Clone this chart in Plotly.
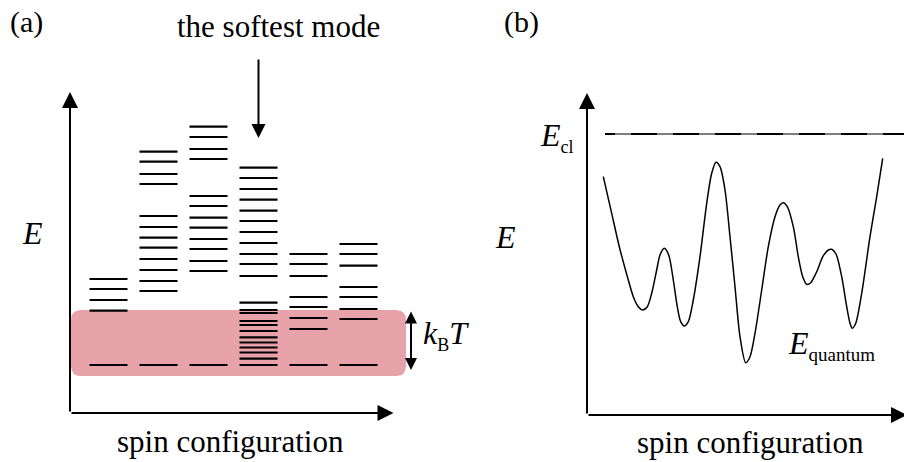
import plotly.graph_objects as go

# ---------------- panel (a): discrete energy levels per spin configuration ----------------
configs = [1, 2, 3, 4, 5, 6]
levels = [
    [0.0, 5.43, 6.5, 7.6, 8.6],
    [0.0, 7.4, 8.4, 9.5, 10.6, 11.73, 12.73, 13.8, 14.9, 18.1, 19.1, 20.33, 21.33],
    [0.0, 9.4, 10.4, 11.6, 12.6, 13.73, 14.73, 15.9, 16.9, 20.6, 21.6, 22.8, 23.83],
    [0.0, 0.63, 1.25, 1.75, 2.25, 2.77, 3.4, 4.0, 4.4, 5.2, 5.5, 6.23,
     8.9, 10.1, 11.1, 12.2, 13.3, 14.4, 15.43, 16.53, 17.6, 18.7, 19.73],
    [0.0, 3.6, 4.7, 5.8, 6.8, 8.9, 10.1, 11.1],
    [0.0, 4.6, 5.6, 6.8, 7.8, 9.93, 11.1, 12.1],
]
level_half_width = 0.38
thermal_window = (-1.1, 5.5)        # E range covered by k_B T band
softest_config = 4

# ---------------- panel (b): classical energy landscape ----------------
q_curve = [1.63, 2.47, 3.23, 4.13, 4.63, 5.13, 5.57, 6.03, 6.47, 6.97, 7.3, 7.73,
           8.17, 8.63, 9.03, 9.37, 9.73, 10.13, 10.63, 11.3, 11.97, 12.47, 12.9,
           13.3, 13.8, 14.3, 14.8, 15.3, 15.87, 16.3, 16.8, 17.47, 18.13, 18.8,
           19.3, 19.63, 20.03, 20.63, 21.13, 21.57, 21.97, 22.37, 22.97, 23.63,
           24.13, 24.47, 24.9, 25.47, 25.97, 26.3, 26.53, 26.87, 27.47, 28.3,
           28.97, 29.57]
e_curve = [23.83, 20.17, 16.83, 13.5, 11.83, 10.83, 10.5, 10.83, 12.17, 14.5, 16.0,
           16.67, 16.0, 13.5, 10.83, 9.33, 8.9, 9.33, 11.5, 15.83, 21.17, 24.17,
           25.27, 24.83, 22.5, 17.83, 12.83, 7.83, 5.23, 5.83, 8.17, 12.5, 16.83,
           19.83, 21.0, 21.23, 20.83, 18.83, 15.83, 13.83, 13.07, 13.23, 14.33,
           15.93, 16.5, 16.57, 16.1, 13.83, 10.83, 9.17, 8.67, 9.17, 12.17, 17.83,
           21.83, 25.67]
e_classical = 28.1
q_cl_span = (1.8, 31.8)

FONT = "Liberation Serif, Times New Roman, Times, DejaVu Serif, serif"
BLACK = "#000000"
PINK = "#E8A2AA"

fig = go.Figure()

# energy levels, one trace per configuration
for k, lv in zip(configs, levels):
    xs, ys = [], []
    for e in lv:
        xs += [k - level_half_width, k + level_half_width, None]
        ys += [e, e, None]
    fig.add_trace(go.Scatter(x=xs, y=ys, mode="lines",
                             line=dict(color=BLACK, width=2.2),
                             hoverinfo="skip", showlegend=False,
                             xaxis="x", yaxis="y"))

# E_cl reference level: grey base with black dashes
fig.add_trace(go.Scatter(x=list(q_cl_span), y=[e_classical, e_classical], mode="lines",
                         line=dict(color="#808080", width=2.2),
                         hoverinfo="skip", showlegend=False, xaxis="x2", yaxis="y2"))
fig.add_trace(go.Scatter(x=list(q_cl_span), y=[e_classical, e_classical], mode="lines",
                         line=dict(color=BLACK, width=2.2, dash="10px,16px,16px,0px"),
                         hoverinfo="skip", showlegend=False, xaxis="x2", yaxis="y2"))

# energy landscape curve
fig.add_trace(go.Scatter(x=q_curve, y=e_curve, mode="lines",
                         line=dict(color=BLACK, width=1.5, shape="spline", smoothing=0.8),
                         hoverinfo="skip", showlegend=False, xaxis="x2", yaxis="y2"))

# rounded thermal band
x0, x1 = 0.25, 6.95
y0, y1 = thermal_window
rx, ry = 0.2, 1.0
band_path = (f"M{x0+rx},{y0} L{x1-rx},{y0} Q{x1},{y0} {x1},{y0+ry} "
             f"L{x1},{y1-ry} Q{x1},{y1} {x1-rx},{y1} L{x0+rx},{y1} "
             f"Q{x0},{y1} {x0},{y1-ry} L{x0},{y0+ry} Q{x0},{y0} {x0+rx},{y0} Z")
shapes = [dict(type="path", path=band_path, xref="x", yref="y",
               fillcolor=PINK, line=dict(width=0), layer="below")]


def arrow(x, y, ax, ay, xr, yr, size=1.6, both=False):
    return dict(x=x, y=y, ax=ax, ay=ay, xref=xr, yref=yr, axref=xr, ayref=yr,
                text="", showarrow=True, arrowhead=2, arrowsize=size, arrowwidth=2,
                arrowcolor=BLACK, startarrowhead=2, startarrowsize=size,
                arrowside="end+start" if both else "end", standoff=0, startstandoff=0)


def label(text, x, y, xr, yr, size=31, xanchor="center", yanchor="middle"):
    return dict(text=text, x=x, y=y, xref=xr, yref=yr, showarrow=False,
                font=dict(family=FONT, size=size, color=BLACK),
                xanchor=xanchor, yanchor=yanchor)


def sub(text, px):
    return f"<sub><span style='font-size:{px}px'>{text}</span></sub>"


W, H = 904, 462
annotations = [
    # panel (a) axes
    arrow(0.23, 27.3, 0.23, -4.8, "x", "y"),
    arrow(6.7, -4.8, 0.23, -4.8, "x", "y"),
    # softest-mode pointer
    arrow(softest_config, 22.7, softest_config, 30.7, "x", "y", size=1.4),
    # k_B T double arrow
    arrow(7.05, -0.5, 7.05, 5.5, "x", "y", size=1.2, both=True),
    # panel (b) axes
    arrow(0, 32.2, 0, 0, "x2", "y2"),
    arrow(32.0, 0, 0, 0, "x2", "y2"),
    # texts
    label("(a)", 26 / W, 1 - 22 / H, "paper", "paper", size=30),
    label("(b)", 521 / W, 1 - 22 / H, "paper", "paper", size=30),
    label("the softest mode", 278 / W, 1 - 27 / H, "paper", "paper"),
    label("<i>E</i>", -0.53, 13.2, "x", "y", size=32),
    label("<i>E</i>", -8.2, 17.8, "x2", "y2", size=32),
    label("<i>E</i>" + sub("cl", 18), -3.0, 27.8, "x2", "y2", size=32),
    label("<i>E</i>" + sub("quantum", 19), 19.9, 7.0, "x2", "y2", size=32, xanchor="left"),
    label("<i>k</i>" + sub("B", 18) + "<i>T</i>", 7.25, 3.0, "x", "y", size=32, xanchor="left"),
    label("spin configuration", 230 / W, 1 - 441 / H, "paper", "paper"),
    label("spin configuration", 750 / W, 1 - 442 / H, "paper", "paper"),
]

hidden = dict(visible=False, showgrid=False, zeroline=False, fixedrange=True)
fig.update_layout(
    width=W, height=H,
    margin=dict(l=0, r=0, t=0, b=0),
    paper_bgcolor="white", plot_bgcolor="white",
    xaxis=dict(domain=[0, 0.5], range=[-1.17, 7.87], **hidden),
    yaxis=dict(domain=[0, 1], range=[-9.7, 36.5], **hidden),
    xaxis2=dict(domain=[0.5, 1], range=[-13.5, 31.7], anchor="y2", **hidden),
    yaxis2=dict(domain=[0, 1], range=[-4.7, 41.5], anchor="x2", **hidden),
    shapes=shapes,
    annotations=annotations,
    showlegend=False,
)

fig.write_html("out.html")
